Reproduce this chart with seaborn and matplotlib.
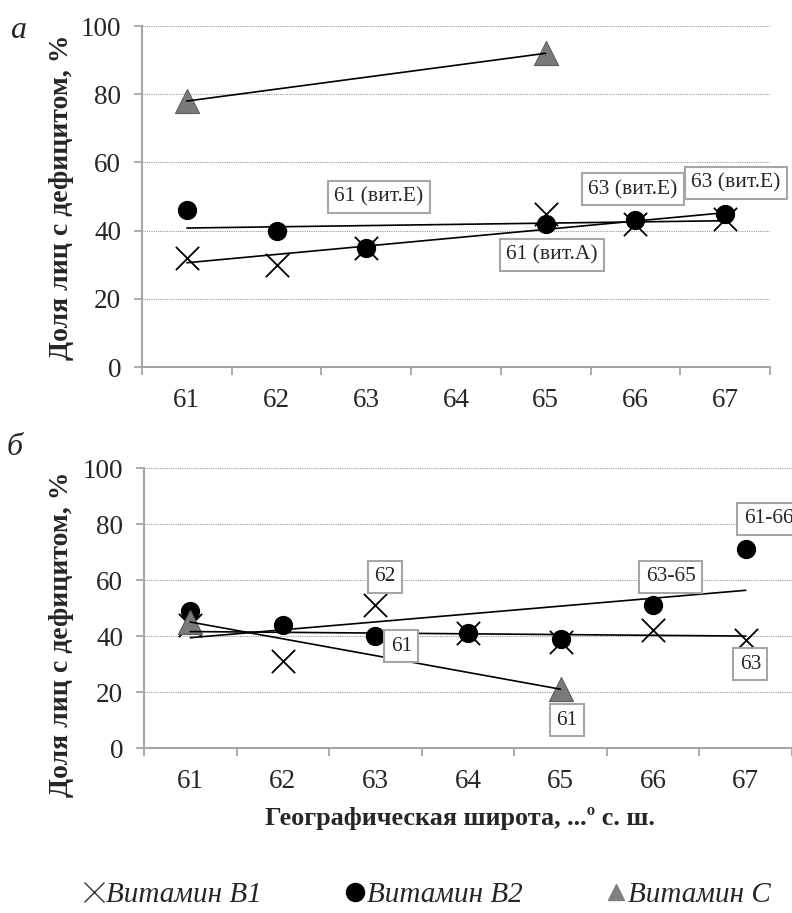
import numpy as np
import pandas as pd
import matplotlib
matplotlib.use('Agg')
import matplotlib.pyplot as plt
from matplotlib.lines import Line2D
import seaborn as sns

# данные
lat = [61, 62, 63, 64, 65, 66, 67]

# а — верхняя панель
a_b1 = [32, 30, 35, np.nan, 45, 42, 43.5]
a_b2 = [46, 40, 35, np.nan, 42, 43, 45]
a_c = [78, np.nan, np.nan, np.nan, 92, np.nan, np.nan]

# б — нижняя панель
b_b1 = [44, 31, 51, 41, 38, 42, 38.5]
b_b2 = [49, 44, 40, 41, 39, 51, 71]
b_c = [45, np.nan, np.nan, np.nan, 21, np.nan, np.nan]

a_labels = [(63.14, 49.8, '61 (вит.Е)'), (65.97, 52.1, '63 (вит.Е)'),
            (67.12, 53.9, '63 (вит.Е)'), (65.07, 32.8, '61 (вит.А)')]
b_labels = [(63.10, 61.1, '62'), (63.28, 36.4, '61'), (66.19, 61.1, '63-65'),
            (67.05, 30.0, '63'), (65.07, 10.0, '61')]

sns.set_style('white')
plt.rcParams['font.family'] = ['Liberation Serif', 'DejaVu Serif']

GRAY = '#a6a6a6'
TRI = '#7a7a7a'

fig = plt.figure(figsize=(7.92, 9.13), dpi=100)
ax_a = fig.add_axes([0.1793, 0.598, 0.7929, 0.3735])
ax_b = fig.add_axes([0.1818, 0.1807, 0.8182, 0.3067])


def draw_panel(ax, b1, b2, c, labels):
    df = pd.DataFrame({'lat': lat, 'b1': b1, 'b2': b2, 'c': c})
    sns.scatterplot(data=df, x='lat', y='b1', marker='x', s=280, color='black',
                    linewidth=1.3, ax=ax, zorder=3)
    sns.scatterplot(data=df, x='lat', y='b2', marker='o', s=165, color='black',
                    edgecolor='black', ax=ax, zorder=4)
    sns.scatterplot(data=df, x='lat', y='c', marker='^', s=300, color=TRI,
                    edgecolor='#5e5e5e', linewidth=0.8, ax=ax, zorder=4)
    for col in ['b1', 'b2', 'c']:
        sns.regplot(data=df, x='lat', y=col, scatter=False, ci=None, ax=ax,
                    color='black', line_kws={'lw': 1.2, 'zorder': 5})
    for x, y, t in labels:
        ax.text(x, y, t, ha='center', va='center', fontsize=15.5, zorder=6,
                bbox=dict(boxstyle='square,pad=0.3', fc='white', ec=GRAY, lw=1.5))

    ax.set_xlim(60.5, 67.5)
    ax.set_ylim(0, 100)
    ax.set_yticks([0, 20, 40, 60, 80, 100])
    ax.set_xticks(lat)
    ax.set_xticks(np.arange(60.5, 67.6, 1), minor=True)
    ax.tick_params(axis='x', which='major', length=0, pad=15, labelsize=19.5)
    ax.tick_params(axis='x', which='minor', length=6, width=1.3, color=GRAY,
                   direction='out', bottom=True)
    ax.tick_params(axis='y', length=6, width=1.3, color=GRAY, direction='out',
                   left=True, pad=9, labelsize=19.5)
    ax.grid(axis='y', ls=(0, (1, 1)), color='#9a9a9a', lw=0.8)
    ax.set_axisbelow(True)
    for side in ['top', 'right']:
        ax.spines[side].set_visible(False)
    for side in ['left', 'bottom']:
        ax.spines[side].set_color(GRAY)
        ax.spines[side].set_linewidth(1.5)
    ax.set_xlabel('')
    ax.set_ylabel('')


draw_panel(ax_a, a_b1, a_b2, a_c, a_labels)
draw_panel(ax_b, b_b1, b_b2, b_c, b_labels)

# подпись 61-66 обрезается краем рисунка
ax_b.text(66.98, 81.8, '61-66', ha='left', va='center', fontsize=15.5, zorder=6,
          clip_on=False,
          bbox=dict(boxstyle='square,pad=0.3', fc='white', ec=GRAY, lw=1.5))

ylab = 'Доля лиц с дефицитом, %'
fig.text(62 / 792, 1 - 197 / 913, ylab, rotation=90, ha='center', va='center',
         fontsize=20, fontweight='bold')
fig.text(62 / 792, 1 - 634 / 913, ylab, rotation=90, ha='center', va='center',
         fontsize=20, fontweight='bold')
fig.text(460 / 792, 1 - 818 / 913, 'Географическая широта, ...º с. ш.',
         ha='center', va='center', fontsize=18.8, fontweight='bold')

fig.text(18 / 792, 1 - 30 / 913, 'а', style='italic', fontsize=23,
         ha='center', va='center')
fig.text(15 / 792, 1 - 447 / 913, 'б', style='italic', fontsize=23,
         ha='center', va='center')

handles = [
    Line2D([], [], marker='x', ls='none', color='#333333', markersize=14,
           markeredgewidth=1.0),
    Line2D([], [], marker='o', ls='none', color='black', markersize=13),
    Line2D([], [], marker='^', ls='none', color='#808080', markersize=12),
]
fig.legend(handles, ['Витамин В1', 'Витамин В2', 'Витамин С'], ncol=3,
           loc='center', bbox_to_anchor=(428 / 792, 1 - 895 / 913),
           frameon=False, handlelength=0.6, handletextpad=0.1,
           columnspacing=2.9, prop={'style': 'italic', 'size': 21})

fig.savefig('out.png', dpi=100)
